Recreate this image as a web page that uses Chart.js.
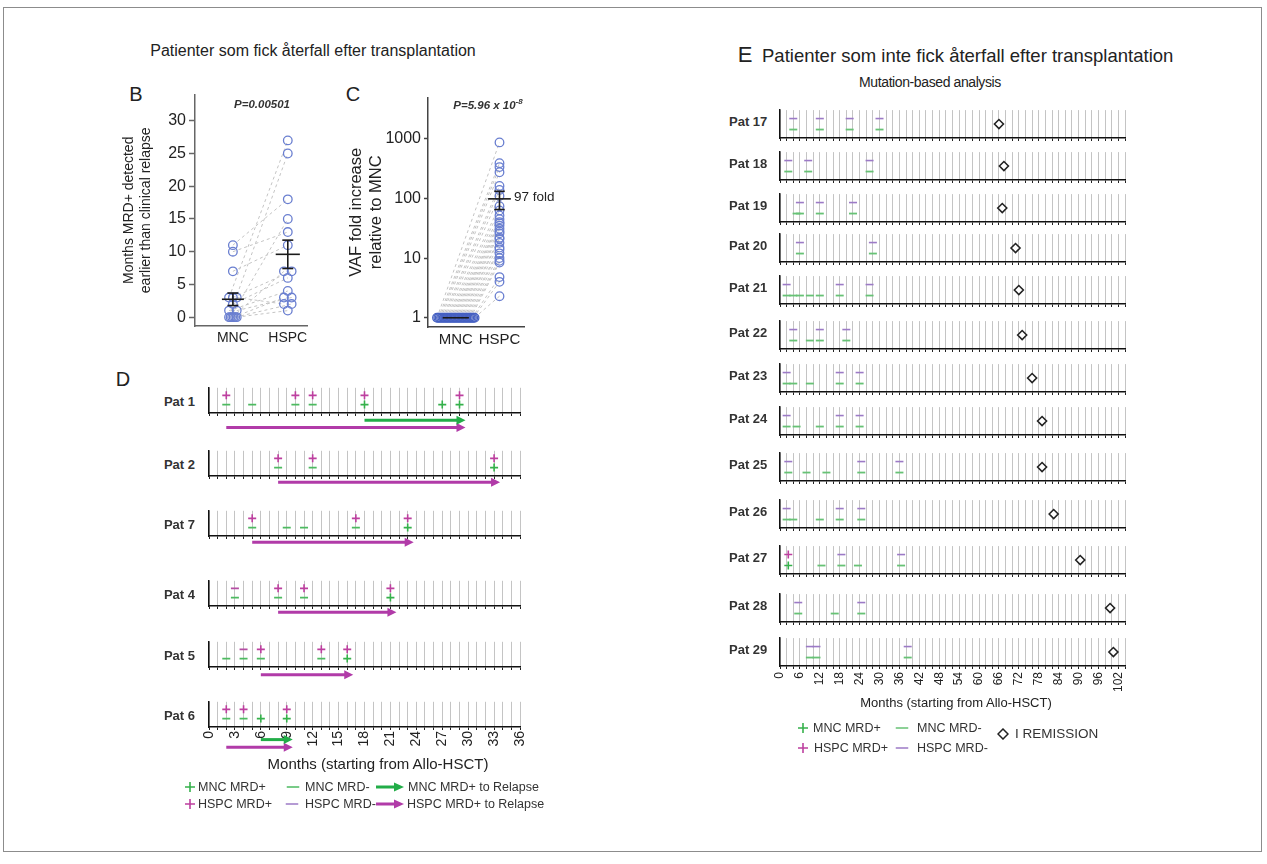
<!DOCTYPE html>
<html>
<head>
<meta charset="utf-8">
<title>MRD-uppföljning efter transplantation</title>
<script src="https://cdn.jsdelivr.net/npm/chart.js"></script>
<style>
  html, body { margin: 0; padding: 0; background: #fff; }
  #fig { position: relative; width: 1267px; height: 864px; overflow: hidden; font-family: Arial, "Liberation Sans", sans-serif; color: #222; }
  #frame { position: absolute; left: 3px; top: 7px; width: 1259px; height: 845px; border: 1px solid #8c8c8c; box-sizing: border-box; }
  #fig canvas { position: absolute; }
  .txt { position: absolute; white-space: nowrap; line-height: 1.15; }
  .txt svg { display: block; }
</style>
</head>
<body>
<div id="fig"><div id="frame"></div></div>
<script>
// ---------- panel B: months MRD+ detected before clinical relapse ----------
const groupLabels = ['MNC', 'HSPC'];
const monthsEarlierMNC  = [3, 0, 11, 0, 10, 7, 0, 3, 2, 1, 0, 1, 3, 0, 0];
const monthsEarlierHSPC = [27, 25, 18, 15, 13, 11, 7, 7, 6, 4, 3, 3, 2, 2, 1];
const monthTicks = [0, 5, 10, 15, 20, 25, 30];

// ---------- panel C: VAF fold increase relative to MNC ----------
const vafFoldMNC = [1, 1, 1, 1, 1, 1, 1, 1, 1, 1, 1, 1, 1, 1, 1, 1, 1, 1, 1, 1, 1, 1, 1, 1, 1, 1, 1, 1, 1];
const vafFoldHSPC = [870, 390, 335, 275, 162, 139, 110, 74, 63, 52, 45, 40, 38, 35, 31, 28, 26, 22, 21, 18,
                     15, 14, 12, 10, 9, 8.4, 4.8, 4.0, 2.3];
const vafTicks = [1, 10, 100, 1000];

// ---------- panel D: patients who relapsed ----------
const relapsePatients = ['Pat 1', 'Pat 2', 'Pat 7', 'Pat 4', 'Pat 5', 'Pat 6'];
const relapseSampleMonths = [
  [2, 5, 10, 12, 18, 27, 29],
  [8, 12, 33],
  [5, 9, 11, 17, 23],
  [3, 8, 11, 21],
  [2, 4, 6, 13, 16],
  [2, 4, 6, 9]
];
const relapseHSPC = [
  ['+', '', '+', '+', '+', '', '+'],
  ['+', '+', '+'],
  ['+', '', '', '+', '+'],
  ['-', '+', '+', '+'],
  ['', '-', '+', '+', '+'],
  ['+', '+', '', '+']
];
const relapseMNC = [
  ['-', '-', '-', '-', '+', '+', '+'],
  ['-', '-', '+'],
  ['-', '-', '-', '-', '+'],
  ['-', '-', '-', '+'],
  ['-', '-', '-', '-', '+'],
  ['-', '-', '+', '+']
];
const relapseMonth = [29, 33, 23, 21, 16, 9];
const hspcFirstPositive = [2, 8, 5, 8, 6, 2];
const mncFirstPositive = [18, null, null, null, null, 6];

// ---------- panel E: patients without relapse ----------
const remissionPatients = ['Pat 17', 'Pat 18', 'Pat 19', 'Pat 20', 'Pat 21', 'Pat 22', 'Pat 23',
                           'Pat 24', 'Pat 25', 'Pat 26', 'Pat 27', 'Pat 28', 'Pat 29'];
const remissionSampleMonths = [
  [4, 12, 21, 30],
  [2.5, 8.5, 27],
  [5, 6, 12, 22],
  [6, 28],
  [2, 4, 6, 9, 12, 18, 27],
  [4, 9, 12, 20],
  [2, 4, 9, 18, 24],
  [2, 5, 12, 18, 24],
  [2.5, 8, 14, 24.5, 36],
  [2, 4, 12, 18, 24.5],
  [2.5, 12.5, 18.5, 23.5, 36.5],
  [5.5, 16.5, 24.5],
  [9, 11, 38.5]
];
const remissionHSPC = [
  ['-', '-', '-', '-'],
  ['-', '-', '-'],
  ['', '-', '-', '-'],
  ['-', '-'],
  ['-', '', '', '', '', '-', '-'],
  ['-', '', '-', '-'],
  ['-', '', '', '-', '-'],
  ['-', '', '', '-', '-'],
  ['-', '', '', '-', '-'],
  ['-', '', '', '-', '-'],
  ['+', '', '-', '', '-'],
  ['-', '', '-'],
  ['-', '-', '-']
];
const remissionMNC = [
  ['-', '-', '-', '-'],
  ['-', '-', '-'],
  ['-', '-', '-', '-'],
  ['-', '-'],
  ['-', '-', '-', '-', '-', '-', '-'],
  ['-', '-', '-', '-'],
  ['-', '-', '-', '-', '-'],
  ['-', '-', '-', '-', '-'],
  ['-', '-', '-', '-', '-'],
  ['-', '-', '-', '-', '-'],
  ['+', '-', '-', '-', '-'],
  ['-', '-', '-'],
  ['-', '-', '-']
];
const remissionMonth = [66, 67.5, 67, 71, 72, 73, 76, 79, 79, 82.5, 90.5, 99.5, 100.5];

// ---------- look ----------
const COL = {
  mncPos: '#35b14b', mncNeg: '#4dba60', mncNegE: '#67c275',
  hspcPos: '#bd3f9f', hspcNegD: '#b54ea3', hspcNegE: '#9c7ac6',
  mncArrow: '#22ad48', hspcArrow: '#b13ba8',
  dot: '#6a7fd0', dotDark: '#4560c2', pair: '#c4c4c4', bar: '#1a1a1a'
};

Chart.defaults.font.family = 'Arial, "Liberation Sans", sans-serif';
Chart.defaults.color = '#222';

const fig = document.getElementById('fig');
const noPlugins = { legend: { display: false }, tooltip: { enabled: false } };

function makeCanvas(left, top, w, h) {
  const cv = document.createElement('canvas');
  cv.width = w; cv.height = h;
  cv.style.left = left + 'px'; cv.style.top = top + 'px';
  cv.style.width = w + 'px'; cv.style.height = h + 'px';
  fig.appendChild(cv);
  return cv;
}

function addText(html, x, y, css, anchor) {
  const d = document.createElement('div');
  d.className = 'txt';
  d.innerHTML = html;
  d.style.cssText += css || '';
  d.style.left = x + 'px';
  d.style.top = y + 'px';
  const tx = anchor === 'left' ? '0' : anchor === 'right' ? '-100%' : '-50%';
  d.style.transform = 'translate(' + tx + ',-50%)';
  fig.appendChild(d);
  return d;
}

// spread equal values sideways a little, like a swarm
function spreadX(values, center, width) {
  const count = {}, seen = {};
  values.forEach(v => { count[v] = (count[v] || 0) + 1; });
  return values.map(v => {
    seen[v] = seen[v] === undefined ? 0 : seen[v] + 1;
    return count[v] > 1 ? center + (seen[v] / (count[v] - 1) - 0.5) * width : center;
  });
}

function meanSem(a) {
  const m = a.reduce((s, v) => s + v, 0) / a.length;
  const sd = Math.sqrt(a.reduce((s, v) => s + (v - m) * (v - m), 0) / (a.length - 1));
  return [m, sd / Math.sqrt(a.length)];
}

const seg = (pts, color, width, dash, order) => ({
  data: pts, showLine: true, borderColor: color, borderWidth: width, borderDash: dash || [],
  pointRadius: 0, pointHoverRadius: 0, order: order, clip: false
});

const dots = (pts, color, r, order) => ({
  data: pts, pointStyle: 'circle', pointRadius: r, pointHoverRadius: r, pointBorderWidth: 1.3,
  pointBorderColor: color, pointBackgroundColor: 'rgba(0,0,0,0)', order: order
});

function errorBar(c, mean, sem, halfMean, halfCap) {
  const out = [seg([{ x: c - halfMean, y: mean }, { x: c + halfMean, y: mean }], COL.bar, 1.6, null, 1)];
  if (sem > 0) {
    out.push(seg([{ x: c, y: mean - sem }, { x: c, y: mean + sem }], COL.bar, 1.6, null, 1));
    out.push(seg([{ x: c - halfCap, y: mean + sem }, { x: c + halfCap, y: mean + sem }], COL.bar, 1.6, null, 1));
    out.push(seg([{ x: c - halfCap, y: mean - sem }, { x: c + halfCap, y: mean - sem }], COL.bar, 1.6, null, 1));
  }
  return out;
}

// ================= titles =================
addText('Patienter som fick återfall efter transplantation', 313, 51, 'font-size:16px;');
addText('B', 136, 94, 'font-size:20px;');
addText('C', 353, 94, 'font-size:20px;');
addText('D', 123, 379, 'font-size:20px;');
addText('E', 745, 55, 'font-size:22px;');
addText('Patienter som inte fick återfall efter transplantation', 762, 56, 'font-size:18.5px;', 'left');
addText('Mutation-based analysis', 930, 82, 'font-size:14px;letter-spacing:-0.4px;');

// ================= panel B =================
{
  const xm = spreadX(monthsEarlierMNC, 0, 0.14);
  const xh = spreadX(monthsEarlierHSPC, 1, 0.14);
  const [mM, sM] = meanSem(monthsEarlierMNC);
  const [mH, sH] = meanSem(monthsEarlierHSPC);
  const sets = monthsEarlierMNC.map((v, i) =>
    seg([{ x: xm[i], y: v }, { x: xh[i], y: monthsEarlierHSPC[i] }], COL.pair, 1, [3, 3], 5));
  sets.push(dots(monthsEarlierMNC.map((v, i) => ({ x: xm[i], y: v })), COL.dot, 4.3, 3));
  sets.push(dots(monthsEarlierHSPC.map((v, i) => ({ x: xh[i], y: v })), COL.dot, 4.3, 3));
  sets.push(...errorBar(0, mM, sM, 0.2, 0.1), ...errorBar(1, mH, sH, 0.22, 0.1));

  new Chart(makeCanvas(110, 82, 205, 268), {
    type: 'scatter',
    data: { datasets: sets },
    options: {
      responsive: false, animation: false, devicePixelRatio: 1,
      layout: { padding: { left: 0, right: 8, top: 8, bottom: 0 } },
      plugins: noPlugins,
      scales: {
        x: {
          type: 'linear', min: -0.69, max: 1.35,
          afterBuildTicks: s => { s.ticks = groupLabels.map((_, i) => ({ value: i })); },
          afterFit: s => { s.height = 24; },
          ticks: { autoSkip: false, maxRotation: 0, padding: 4, font: { size: 14 }, callback: (v, i) => groupLabels[i] },
          grid: { display: false, drawTicks: false },
          border: { color: '#666', width: 1.5 }
        },
        y: {
          min: -1.35, max: 34,
          afterBuildTicks: s => { s.ticks = monthTicks.map(v => ({ value: v })); },
          afterFit: s => { s.width = 85; },
          ticks: { font: { size: 16 }, padding: 3 },
          grid: { drawOnChartArea: false, tickLength: 6, tickColor: '#666', tickWidth: 1.5 },
          border: { color: '#666', width: 1.5 },
          title: { display: true, text: ['Months MRD+ detected', 'earlier than clinical relapse'],
                   font: { size: 14 }, padding: { top: 11, bottom: 0 } }
        }
      }
    }
  });
  addText('P=0.00501', 262, 105, 'font-size:11.5px;font-weight:bold;font-style:italic;color:#333;');
}

// ================= panel C =================
{
  const xm = spreadX(vafFoldMNC, 0, 0.86);
  const xh = spreadX(vafFoldHSPC, 1, 0.1);
  const [mM, sM] = meanSem(vafFoldMNC);
  const [mH, sH] = meanSem(vafFoldHSPC);
  const sets = vafFoldMNC.map((v, i) =>
    seg([{ x: xm[i], y: v }, { x: xh[i], y: vafFoldHSPC[i] }], COL.pair, 1, [3, 3], 5));
  sets.push(dots(vafFoldMNC.map((v, i) => ({ x: xm[i], y: v })), COL.dotDark, 4.3, 3));
  sets.push(dots(vafFoldHSPC.map((v, i) => ({ x: xh[i], y: v })), COL.dot, 4.3, 3));
  sets.push(...errorBar(0, mM, sM, 0.3, 0.12), ...errorBar(1, mH, sH, 0.26, 0.12));

  new Chart(makeCanvas(340, 85, 190, 266), {
    type: 'scatter',
    data: { datasets: sets },
    options: {
      responsive: false, animation: false, devicePixelRatio: 1,
      layout: { padding: { left: 0, right: 5, top: 8, bottom: 0 } },
      plugins: noPlugins,
      scales: {
        x: {
          type: 'linear', min: -0.636, max: 1.57,
          afterBuildTicks: s => { s.ticks = groupLabels.map((_, i) => ({ value: i })); },
          afterFit: s => { s.height = 24; },
          ticks: { autoSkip: false, maxRotation: 0, padding: 4, font: { size: 15 }, callback: (v, i) => groupLabels[i] },
          grid: { display: false, drawTicks: false },
          border: { color: '#444', width: 1.5 }
        },
        y: {
          type: 'logarithmic', min: 0.71, max: 4900,
          afterBuildTicks: s => { s.ticks = vafTicks.map(v => ({ value: v })); },
          afterFit: s => { s.width = 88; },
          ticks: { font: { size: 16 }, padding: 3, callback: v => String(v) },
          grid: { drawOnChartArea: false, tickLength: 4, tickColor: '#444', tickWidth: 1.5 },
          border: { color: '#444', width: 1.5 },
          title: { display: true, text: ['VAF fold increase', 'relative to MNC'],
                   font: { size: 16.5 }, padding: { top: 7, bottom: 0 } }
        }
      }
    }
  });
  addText('P=5.96 x 10<sup style="font-size:8px;vertical-align:5px">-8</sup>', 488, 105,
          'font-size:11.5px;font-weight:bold;font-style:italic;color:#333;');
  addText('97 fold', 514, 197, 'font-size:13.5px;', 'left');
}

// ================= timeline rows (D and E) =================
function marks(months, codes, code, y, style, color, r, w) {
  const pts = [];
  months.forEach((m, i) => { if (codes[i] === code) pts.push({ x: m, y: y }); });
  return { data: pts, pointStyle: style, pointRadius: r, pointHoverRadius: r, pointBorderWidth: w,
           pointBorderColor: color, pointBackgroundColor: color, order: 2 };
}

// shaft is a normal line dataset; the head is added by the plugin below
function arrow(from, to, y, color) {
  return { data: [{ x: from, y: y }, { x: to, y: y }], showLine: true, borderColor: color, borderWidth: 3,
           pointRadius: 0, pointHoverRadius: 0, clip: false, order: 1, arrowHead: true };
}

const arrowHeads = {
  id: 'arrowHeads',
  afterDatasetsDraw(chart) {
    const ctx = chart.ctx;
    chart.data.datasets.forEach((ds, i) => {
      if (!ds.arrowHead) return;
      const pts = chart.getDatasetMeta(i).data;
      const end = pts[pts.length - 1];
      ctx.save();
      ctx.fillStyle = ds.borderColor;
      ctx.beginPath();
      ctx.moveTo(end.x + 6, end.y);
      ctx.lineTo(end.x - 3, end.y - 4.5);
      ctx.lineTo(end.x - 3, end.y + 4.5);
      ctx.closePath();
      ctx.fill();
      ctx.restore();
    });
  }
};

function rowChart(g, datasets) {
  const padL = 12, padR = 22, padT = 3;
  const w = Math.round(g.right - g.left) + padL + padR;
  const h = padT + g.plotH + g.below;
  const cv = makeCanvas(g.left - padL, g.axisY - g.plotH - padT, w, h);
  return new Chart(cv, {
    type: 'scatter',
    data: { datasets: datasets },
    plugins: [arrowHeads],
    options: {
      responsive: false, animation: false, devicePixelRatio: 1,
      layout: { padding: { left: padL, right: padR, top: padT, bottom: 0 } },
      plugins: noPlugins,
      scales: {
        x: {
          type: 'linear', min: 0, max: g.xMax,
          afterFit: s => { s.height = g.below; },
          ticks: { stepSize: g.step, autoSkip: false, display: g.labels, minRotation: 90, maxRotation: 90,
                   padding: g.tickPad, font: { size: g.fontSize },
                   callback: v => (v % g.every === 0 ? String(v) : '') },
          grid: { color: '#c4c4c4', lineWidth: 1, drawTicks: true, tickLength: 3, tickColor: '#222', tickWidth: 1 },
          border: { color: '#111', width: 1.5 }
        },
        y: {
          min: 0, max: g.yMax,
          afterFit: s => { s.width = 0; },
          ticks: { display: false },
          grid: { display: false, drawTicks: false },
          border: { color: '#111', width: 1.5 }
        }
      }
    }
  });
}

// ---- D ----
const dAxisY = [412.7, 476, 536, 606, 667, 727];
const dMncArrowDrop = [8, 0, 0, 0, 0, 14];
const dHspcArrowDrop = [16, 7, 7, 7, 8.5, 22.5];
const D_PLOT_H = 28, D_YMAX = 3;
relapsePatients.forEach((name, r) => {
  const months = relapseSampleMonths[r];
  const unit = D_PLOT_H / D_YMAX;
  const sets = [
    marks(months, relapseHSPC[r], '+', 2.1, 'cross', COL.hspcPos, 4, 1.6),
    marks(months, relapseHSPC[r], '-', 2.1, 'line', COL.hspcNegD, 4, 1.8),
    marks(months, relapseMNC[r], '+', 1, 'cross', COL.mncPos, 4, 1.6),
    marks(months, relapseMNC[r], '-', 1, 'line', COL.mncNeg, 4, 1.8),
    arrow(hspcFirstPositive[r], relapseMonth[r], -dHspcArrowDrop[r] / unit, COL.hspcArrow)
  ];
  if (mncFirstPositive[r] !== null) {
    sets.push(arrow(mncFirstPositive[r], relapseMonth[r], -dMncArrowDrop[r] / unit, COL.mncArrow));
  }
  const last = r === relapsePatients.length - 1;
  rowChart({ left: 209, right: 520, axisY: dAxisY[r], plotH: D_PLOT_H, below: 32, xMax: 36, yMax: D_YMAX,
             step: 1, every: 3, labels: last, fontSize: 14, tickPad: 1 }, sets);
  addText(name, 195, dAxisY[r] - 11, 'font-weight:bold;font-size:13px;color:#333;', 'right');
});
addText('Months (starting from Allo-HSCT)', 378, 764, 'font-size:15px;');

// ---- E ----
const eAxisY = [137.7, 180, 222.3, 261.7, 304.3, 349, 391.7, 435, 480.7, 528.3, 574.3, 621.7, 666];
const E_PLOT_H = 31, E_YMAX = 3.3, E_MAX = 104, E_LEFT = 780, E_PX_PER_MONTH = 3.314;
remissionPatients.forEach((name, r) => {
  const months = remissionSampleMonths[r];
  const sets = [
    marks(months, remissionHSPC[r], '+', 2.3, 'cross', COL.hspcPos, 4, 1.6),
    marks(months, remissionHSPC[r], '-', 2.3, 'line', COL.hspcNegE, 4, 1.6),
    marks(months, remissionMNC[r], '+', 1, 'cross', COL.mncPos, 4, 1.6),
    marks(months, remissionMNC[r], '-', 1, 'line', COL.mncNegE, 4, 1.8),
    { data: [{ x: remissionMonth[r], y: 1.65 }], pointStyle: 'rectRot', pointRadius: 4.5, pointHoverRadius: 4.5,
      pointBorderWidth: 1.6, pointBorderColor: '#222', pointBackgroundColor: '#fff', order: 1 }
  ];
  const last = r === remissionPatients.length - 1;
  rowChart({ left: E_LEFT, right: E_LEFT + E_MAX * E_PX_PER_MONTH, axisY: eAxisY[r], plotH: E_PLOT_H,
             below: last ? 32 : 10, xMax: E_MAX, yMax: E_YMAX, step: 2, every: 6, labels: last,
             fontSize: 12, tickPad: 3 }, sets);
  addText(name, 729, eAxisY[r] - 16, 'font-weight:bold;font-size:13px;color:#333;', 'left');
});
addText('Months (starting from Allo-HSCT)', 956, 703, 'font-size:13px;');

// ================= legends =================
const sym = {
  cross: c => `<svg width="11" height="11"><path d="M0.5 5.5H10.5M5.5 0.5V10.5" stroke="${c}" stroke-width="1.6"/></svg>`,
  dash: c => `<svg width="13" height="4"><path d="M0 2H13" stroke="${c}" stroke-width="1.6"/></svg>`,
  arrow: c => `<svg width="28" height="10"><path d="M0 5H20" stroke="${c}" stroke-width="3"/><path d="M18 0.5L28 5L18 9.5Z" fill="${c}"/></svg>`,
  diamond: c => `<svg width="12" height="12"><path d="M6 1L11 6L6 11L1 6Z" fill="none" stroke="${c}" stroke-width="1.5"/></svg>`
};
const lg = 'font-size:12.5px;color:#333;';
// D legend
addText(sym.cross(COL.mncPos), 190, 787);
addText('MNC MRD+', 198, 787, lg, 'left');
addText(sym.dash(COL.mncNeg), 293, 787);
addText('MNC MRD-', 305, 787, lg, 'left');
addText(sym.arrow(COL.mncArrow), 390, 787);
addText('MNC MRD+ to Relapse', 408, 787, lg, 'left');
addText(sym.cross(COL.hspcPos), 190, 804);
addText('HSPC MRD+', 198, 804, lg, 'left');
addText(sym.dash(COL.hspcNegE), 292, 804);
addText('HSPC MRD-', 305, 804, lg, 'left');
addText(sym.arrow(COL.hspcArrow), 390, 804);
addText('HSPC MRD+ to Relapse', 407, 804, lg, 'left');
// E legend
addText(sym.cross(COL.mncPos), 803, 728);
addText('MNC MRD+', 813, 728, lg, 'left');
addText(sym.dash(COL.mncNegE), 902, 728);
addText('MNC MRD-', 917, 728, lg, 'left');
addText(sym.diamond('#222'), 1003, 734);
addText('I REMISSION', 1015, 734, 'font-size:13.5px;color:#333;', 'left');
addText(sym.cross(COL.hspcPos), 803, 748);
addText('HSPC MRD+', 814, 748, lg, 'left');
addText(sym.dash(COL.hspcNegE), 902, 748);
addText('HSPC MRD-', 917, 748, lg, 'left');
</script>
</body>
</html>
